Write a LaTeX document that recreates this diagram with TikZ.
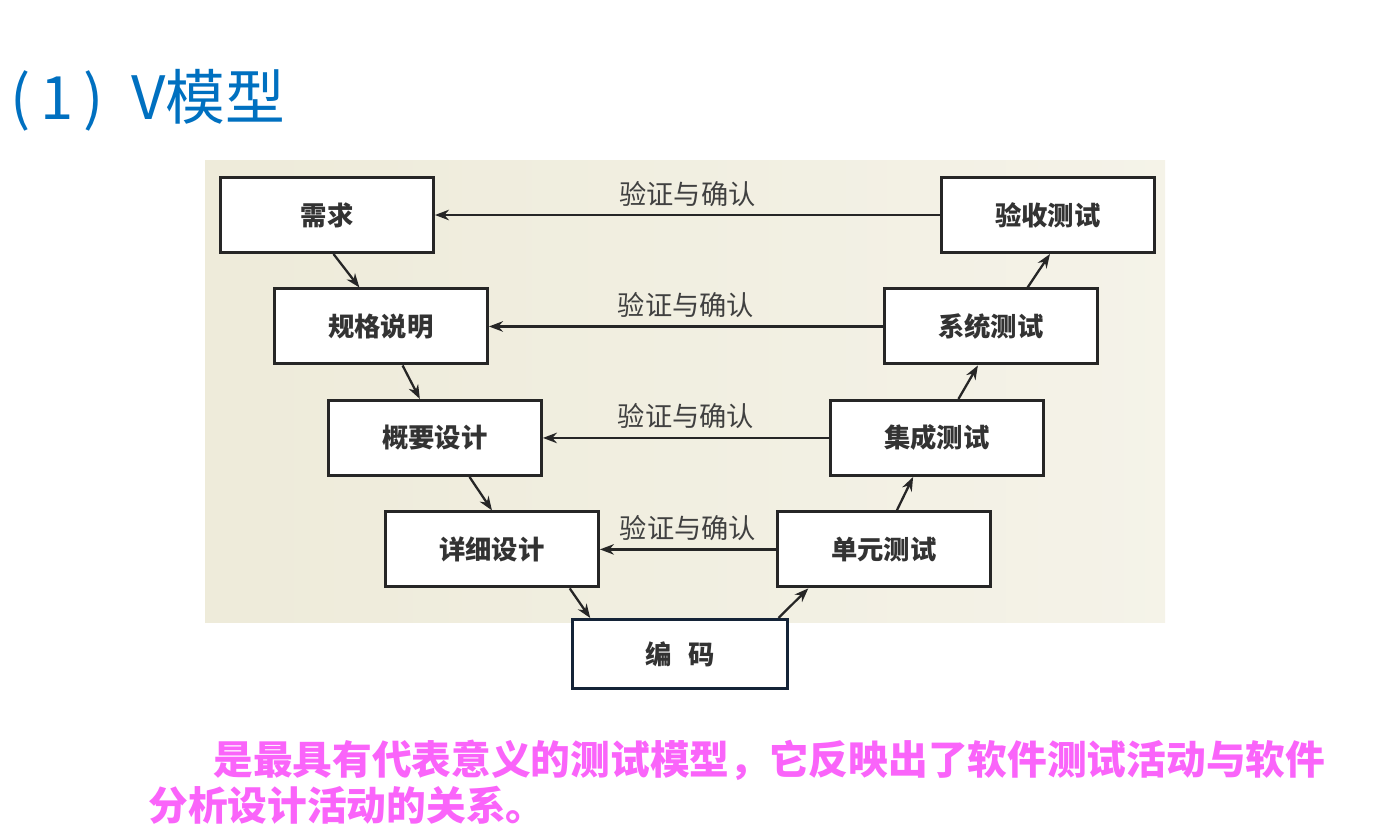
\documentclass[tikz,border=0pt]{standalone}
\usepackage{fontspec}
\newfontfamily\cjk{Noto Sans CJK SC}
\usetikzlibrary{positioning,arrows.meta,calc}
\definecolor{titleBlue}{RGB}{0,112,192}
\definecolor{notePink}{RGB}{250,100,250}
\definecolor{bgTan}{RGB}{232,228,205}
\definecolor{codeNavy}{RGB}{20,35,55}
\tikzset{
	stage/.style={
		draw=black!85,
		line width=1.7pt,
		minimum width=4.26cm,
		minimum height=1.5cm,
		align=center,
		fill=white,
		font=\cjk\bfseries\fontsize{15}{18}\selectfont,
		text=black!80,
	},
	flow/.style={
		-{Stealth[length=2.8mm,width=2.1mm]},
		line width=1.3pt,
		draw=black!85,
	},
	check/.style={
		font=\cjk\fontsize{15.5}{18}\selectfont,
		text=black!75,
	}
}

\begin{document}
\begin{tikzpicture}[x=0.02cm, y=-0.02cm]
			\useasboundingbox (0,0) rectangle (1380,839);
			\def\RowGap{0.67cm}
			% --- background picture area ---
			\shade[left color=bgTan!75, middle color=white, right color=bgTan!45] (205,160) rectangle (1165,622);
			
			% --- Title ---
			\node[anchor=west, text=titleBlue, font=\cjk\fontsize{34}{38}\selectfont] (title) at (4,100) {(\,1\,)\hspace{0.55cm}V模型};
			
			% --- Left leg (design) ---
			\node[stage] (req) at (327,215) {需求};
			\node[stage] (spec) [below=\RowGap of req, xshift=1.08cm] {规格说明};
			\node[stage] (arch) [below=\RowGap of spec, xshift=1.08cm] {概要设计};
			\node[stage] (detail) [below=\RowGap of arch, xshift=1.14cm] {详细设计};
			
			% --- Right leg (tests) ---
			\node[stage] (unit) [right=3.52cm of detail] {单元测试};
			\node[stage] (integ) [above=\RowGap of unit, xshift=1.06cm] {集成测试};
			\node[stage] (sys) [above=\RowGap of integ, xshift=1.08cm] {系统测试};
			\node[stage] (accept) [above=\RowGap of sys, xshift=1.14cm] {验收测试};
			
			% --- Bottom ---
			\node[stage, draw=codeNavy, minimum height=1.38cm, minimum width=4.32cm] (code) at (680,654) {编\hspace{0.32cm}码};
			
			% --- Verification flows ---
			\draw[flow] (accept.west) -- node[check, above=1pt] {验证与确认} (req.east);
			\draw[flow] (sys.west) -- node[check, above=1pt] {验证与确认} (spec.east);
			\draw[flow] (integ.west) -- node[check, above=1pt] {验证与确认} (arch.east);
			\draw[flow] (unit.west) -- node[check, above=1pt] {验证与确认} (detail.east);
			
			% --- Down the V ---
			\draw[flow] ($(req.south west)!0.53!(req.south east)$) -- ($(spec.north west)!0.40!(spec.north east)$);
			\draw[flow] ($(spec.south west)!0.60!(spec.south east)$) -- ($(arch.north west)!0.43!(arch.north east)$);
			\draw[flow] ($(arch.south west)!0.66!(arch.south east)$) -- ($(detail.north west)!0.50!(detail.north east)$);
			\draw[flow] ($(detail.south west)!0.86!(detail.south east)$) -- ($(code.north west)!0.09!(code.north east)$);
			
			% --- Up the V ---
			\draw[flow] ($(code.north west)!0.95!(code.north east)$) -- ($(unit.south west)!0.15!(unit.south east)$);
			\draw[flow] ($(unit.north west)!0.56!(unit.north east)$) -- ($(integ.south west)!0.39!(integ.south east)$);
			\draw[flow] ($(integ.north west)!0.60!(integ.north east)$) -- ($(sys.south west)!0.44!(sys.south east)$);
			\draw[flow] ($(sys.north west)!0.67!(sys.north east)$) -- ($(accept.south west)!0.51!(accept.south east)$);
			
			% --- Note ---
			\node[anchor=north west, align=left, inner sep=0pt, text=notePink, font=\cjk\bfseries\fontsize{22.6}{25.8}\selectfont] (note) at (148,740)
			{\hspace{1.3cm}是最具有代表意义的测试模型，它反映出了软件测试活动与软件\\分析设计活动的关系。};
		\end{tikzpicture}
\end{document}
